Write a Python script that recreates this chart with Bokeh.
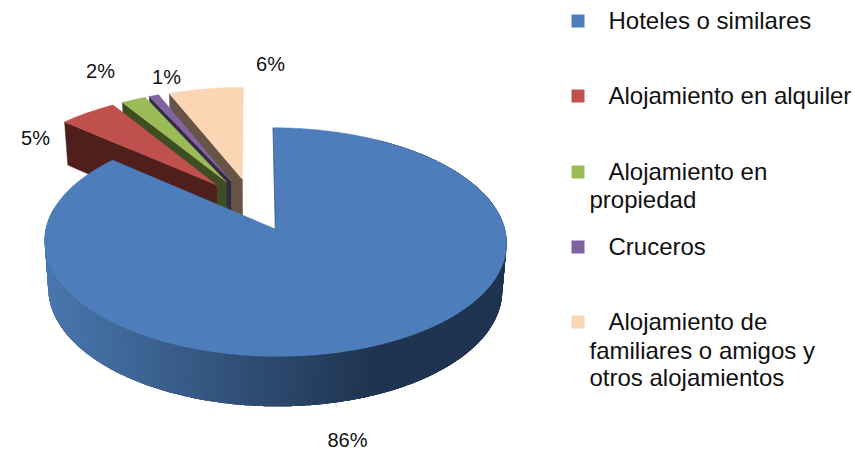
import numpy as np
from bokeh.plotting import figure
from bokeh.core.properties import value
from bokeh.embed import file_html
from bokeh.resources import INLINE

shares = [86.4, 4.7, 2.0, 0.8, 6.1]
categories = ["Hoteles o similares", "Alojamiento en alquiler", "Alojamiento en propiedad",
              "Cruceros", "Alojamiento de familiares o amigos y otros alojamientos"]
share_labels = ["86%", "5%", "2%", "1%", "6%"]

top_colors = ["#4d7ebb", "#c0504d", "#9bbb59", "#8064a2", "#fcd5b5"]
wall_colors = ["#1f3450", "#4f1f1c", "#3f4d22", "#352a46", "#665547"]

# layout (page pixels)
CX, CY, F, G, P = 252.5, 205.0, 224.0, 107.5, 0.111
EXPLODE = [0.235, 0.256, 0.256, 0.256, 0.256]
H0, HQ, SHRINK = 46.0, 3.3, 0.983
label_pos = [(347, 439), (35, 137), (100, 70), (166, 76), (270, 63)]
legend_lines = [
    [(608, 20, "Hoteles o similares")],
    [(608, 95, "Alojamiento en alquiler")],
    [(608, 171, "Alojamiento en"), (589, 199, "propiedad")],
    [(608, 246, "Cruceros")],
    [(608, 321, "Alojamiento de"), (589, 350, "familiares o amigos y"), (589, 377, "otros alojamientos")],
]
legend_box_y = [20.5, 95.5, 171.5, 246.5, 321.5]


def project(X, Y):
    X, Y = np.asarray(X, float), np.asarray(Y, float)
    d = 1 + P * Y
    return CX + F * X / d, CY - G * Y / d


def lower(x, y, Y):
    return CX + (x - CX) * SHRINK, y + H0 - HQ * np.asarray(Y, float)


p = figure(width=855, height=450, x_range=(0, 855), y_range=(450, 0),
           output_backend="svg", toolbar_location=None, min_border=0)
p.axis.visible = False
p.grid.visible = False
p.outline_line_color = None

cum = np.concatenate([[0], np.cumsum(shares)]) / sum(shares) * 2 * np.pi
slices = []
for i in range(len(shares)):
    a0, a1 = cum[i], cum[i + 1]
    m = (a0 + a1) / 2
    ox, oy = EXPLODE[i] * np.sin(m), EXPLODE[i] * np.cos(m)
    t = np.linspace(a0, a1, max(4, int(shares[i] * 6)))
    X = np.concatenate([[ox], ox + np.sin(t)])
    Y = np.concatenate([[oy], oy + np.cos(t)])
    slices.append((X, Y))

# back slices first, nearest to the viewer last
for i in [4, 3, 2, 1]:
    X, Y = slices[i]
    x, y = project(X, Y)
    lx, ly = lower(x, y, Y)
    wx = [x[1], x[0], lx[0], lx[1]]
    wy = [y[1], y[0], ly[0], ly[1]]
    p.patch(wx, wy, fill_color=wall_colors[i], line_color=wall_colors[i], line_width=0.5)
    p.patch(x, y, fill_color=top_colors[i], line_color=top_colors[i], line_width=0.5)

# the large slice: shaded rim, then top face
X, Y = slices[0]
x, y = project(X, Y)
ox, oy = X[0], Y[0]
c_l, c_r = np.array([74, 120, 176]), np.array([31, 52, 80])
xmin, xmax = x[1:].min(), x[1:].max()
# the rim only shows on the viewer's side, so it starts a little past the first edge
rim_t = np.linspace(cum[0] + np.pi / 6, cum[1] - np.pi / 6, 400)
rx, ry = project(ox + np.sin(rim_t), oy + np.cos(rim_t))
bx, by = lower(rx, ry, oy + np.cos(rim_t))
xs, ys, cols = [], [], []
# overlapping bands, painted along the arc, so no seams show
for j in range(len(rim_t) - 1):
    k = min(j + 4, len(rim_t) - 1)
    xs.append(list(rx[j:k + 1]) + list(bx[j:k + 1][::-1]))
    ys.append(list(ry[j:k + 1]) + list(by[j:k + 1][::-1]))
    f = np.clip((rx[j] - xmin) / (0.72 * (xmax - xmin)), 0, 1)
    c = c_l + (c_r - c_l) * f
    cols.append("#%02x%02x%02x" % tuple(int(v) for v in c))
p.patches(xs, ys, fill_color=cols, line_color=None)
p.patch(x, y, fill_color=top_colors[0], line_color=top_colors[0], line_width=0.5)
p.line([x[0], x[1]], [y[0], y[1]], line_color=wall_colors[0], line_width=1, line_alpha=0.5)

# data labels
p.text([q[0] for q in label_pos], [q[1] for q in label_pos], text=share_labels,
       text_font=value("Liberation Sans"), text_font_size="20px", text_color="#111111",
       text_align="center", text_baseline="middle")

# legend
p.scatter([577.5] * len(categories), legend_box_y, marker="square", size=13,
          fill_color=top_colors, line_color=None)
for lines in legend_lines:
    p.text([l[0] for l in lines], [l[1] for l in lines], text=[l[2] for l in lines],
           text_font=value("Liberation Sans"), text_font_size="24px", text_color="#111111",
           text_align="left", text_baseline="middle")

open("out.html", "w").write(file_html(p, INLINE))
